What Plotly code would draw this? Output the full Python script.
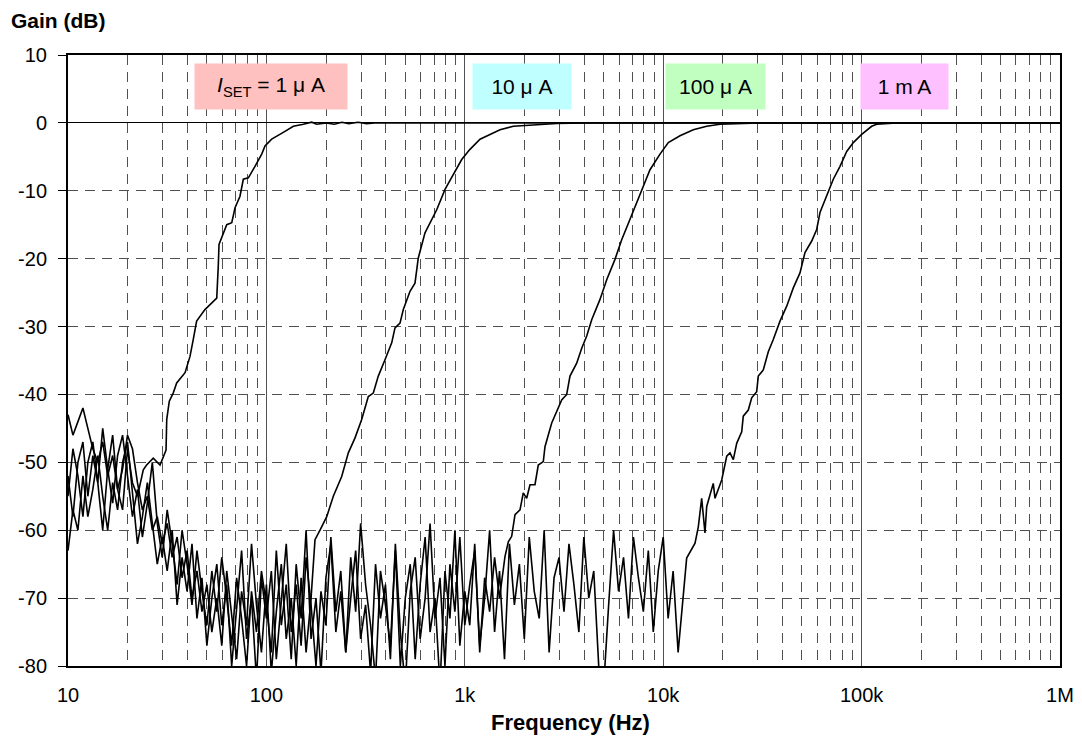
import plotly.graph_objects as go

# sweep points shared by the noise floor part of all four runs (Hz)
f_noise = [10.0, 10.59, 11.22, 11.89, 12.59, 13.34, 14.13, 14.96, 15.85, 16.79,
           17.78, 18.84, 19.95, 21.13, 22.39, 23.71, 25.12, 26.61, 28.18, 29.85,
           31.62, 33.50, 35.48, 37.58, 39.81, 42.17, 44.67, 47.32, 50.12, 53.09,
           56.23, 59.57, 63.10, 66.83, 70.79, 74.99, 79.43, 84.14, 89.13, 94.41,
           100.0, 105.9, 112.2, 118.9, 125.9, 133.4, 141.3, 149.6, 158.5, 167.9,
           177.8, 188.4, 199.5, 211.3, 223.9, 237.1, 251.2, 266.1, 281.8, 298.5,
           316.2, 335.0, 354.8, 375.8, 398.1, 421.7, 446.7, 473.2, 501.2, 530.9,
           562.3, 595.7, 631.0, 668.3, 707.9, 749.9, 794.3, 841.4, 891.3, 944.1,
           1000, 1059, 1122, 1189, 1259, 1334, 1413, 1496, 1585, 1679,
           1778, 1884, 1995, 2113, 2239, 2371, 2512, 2661, 2818, 2985,
           3162, 3350, 3548, 3758, 3981, 4217, 4467, 4732, 5012, 5309,
           5623, 5957, 6310, 6683, 7079, 7499, 7943, 8414, 8913, 9441,
           10000, 10590, 11220, 11890, 12590]

# ISET = 1 uA
g1_noise = [-52, -58, -50, -47, -55, -49, -53, -60, -51, -46, -54, -57, -48, -53, -55]
f1 = [23.96, 24.9, 26.9, 29.1, 31.2, 31.45, 32.4, 33.9, 35.3, 38.9,
      41.2, 42.8, 44.5, 49.0, 56.2, 57.2, 57.7, 63.1, 66.9, 69.5,
      73.6, 76.5, 81.1, 87.6, 94.7, 98.4, 106.3, 121.7, 136.7, 153.5,
      169.2, 179.3, 200, 220, 240, 260, 290, 320, 350, 400, 1000000]
g1 = [-51.1, -50.4, -49.4, -50.4, -48.2, -43.7, -41.0, -39.8, -38.3, -36.8,
      -34.4, -31.9, -29.2, -27.5, -25.8, -21.1, -17.9, -15.0, -14.7, -12.5,
      -10.8, -8.3, -8.1, -6.4, -4.6, -3.4, -2.4, -1.4, -0.5, -0.2,
      0.1, -0.2, 0.0, -0.2, 0.1, -0.1, 0.1, -0.1, 0.0, 0.0, 0.0]

# ISET = 10 uA
g2_noise = [-43, -46, -44, -42, -45, -48, -50, -47, -52, -49,
            -54, -51, -46, -48, -53, -57, -55, -60, -58, -62,
            -59, -64, -61, -67, -63, -70, -66, -72, -68, -75,
            -70, -77, -66, -73, -79, -69, -74, -62, -71, -78,
            -68, -81, -72, -65, -76, -70, -80, -67, -78, -70]
f2 = [175.8, 186.3, 201.4, 217.4, 239.6, 258.8, 279.7, 302.2, 326.3, 345.8,
      366.4, 396.1, 428.1, 444.8, 471.4, 489.8, 529.5, 561.0, 582.9, 630.1,
      681.2, 721.8, 794.9, 859.0, 964.7, 1062, 1193, 1340, 1505, 1756,
      1971, 2304, 2906, 4000, 1000000]
g2 = [-61.4, -60.0, -58.0, -55.0, -52.1, -48.6, -46.4, -43.7, -40.3, -39.8,
      -37.3, -34.9, -32.4, -30.2, -29.5, -27.5, -24.8, -23.6, -19.9, -16.2,
      -14.2, -12.8, -9.8, -8.1, -5.4, -3.9, -2.4, -1.7, -1.0, -0.5,
      -0.4, -0.2, -0.1, 0.0, 0.0]

# ISET = 100 uA
g3_noise = [-55, -48, -52, -58, -50, -47, -53, -45, -51, -56,
            -49, -46, -52, -58, -54, -61, -56, -50, -59, -64,
            -57, -62, -68, -60, -65, -71, -63, -69, -74, -66,
            -72, -64, -70, -77, -67, -73, -80, -69, -75, -66,
            -71, -78, -63, -74, -68, -79, -65, -73, -60, -76,
            -70, -81, -67, -62, -75, -69, -78, -64, -72, -59,
            -68, -74, -82, -66, -71, -77, -63, -80, -70, -65,
            -79, -68, -61, -75, -70, -83, -66, -73, -60, -77,
            -69, -74, -62, -78, -67, -72, -64, -70]
f3 = [1594, 1657, 1723, 1791, 1898, 1971, 2051, 2131, 2258, 2346,
      2487, 2536, 2742, 2960, 3079, 3263, 3390, 3664, 3884, 4116,
      4362, 4802, 5191, 5715, 6178, 6803, 7353, 7938, 8581, 9636,
      10610, 12150, 14180, 16570, 19330, 30740, 1000000]
g3 = [-63.9, -61.7, -60.9, -57.7, -57.0, -54.5, -55.3, -53.3, -53.3, -50.4,
      -49.9, -47.7, -44.2, -42.0, -40.8, -40.0, -37.3, -35.4, -33.2, -31.4,
      -29.0, -26.0, -23.1, -20.1, -17.2, -14.2, -11.8, -9.3, -6.9, -4.6,
      -2.9, -1.9, -1.0, -0.5, -0.2, 0.0, 0.0]

# ISET = 1 mA
g4_noise = [-63, -57, -60, -52, -58, -54, -49, -55, -60, -53,
            -57, -50, -47, -55, -62, -58, -53, -59, -65, -61,
            -66, -60, -71, -64, -69, -62, -73, -67, -77, -70,
            -65, -74, -68, -80, -71, -63, -76, -70, -82, -67,
            -73, -66, -79, -70, -62, -75, -68, -77, -64, -71,
            -80, -69, -74, -61, -72, -66, -78, -70, -63, -76,
            -71, -81, -65, -73, -68, -79, -62, -75, -83, -69,
            -64, -76, -70, -59, -73, -67, -80, -65, -72, -61,
            -74, -68, -63, -77, -70, -60, -75, -66, -79, -62,
            -71, -65, -76, -61, -69, -73, -60, -78, -67, -64,
            -72, -62, -68, -75, -61, -70, -66, -80, -83, -71,
            -60, -69, -64, -73, -61, -67, -72, -63, -75, -66,
            -61, -73, -66, -78, -70]
f4 = [13130, 14470, 15030, 15630, 16240, 16570, 17880, 18240, 19720, 20900,
      21710, 22560, 23470, 24870, 25330, 26850, 27930, 29590, 30150, 31950,
      33860, 35880, 38790, 41930, 45260, 48920, 51830, 56040, 59380, 61700,
      66710, 72000, 77840, 84130, 90840, 100100, 112400, 119200, 150000, 1000000]
g4 = [-64.1, -61.9, -59.5, -55.3, -60.4, -56.5, -53.1, -55.3, -52.6, -49.1,
      -48.6, -49.6, -47.2, -45.5, -43.2, -42.3, -40.5, -39.6, -37.3, -36.4,
      -33.7, -31.9, -29.2, -27.0, -24.3, -22.1, -19.1, -17.4, -15.7, -13.2,
      -10.8, -8.3, -6.4, -4.2, -2.9, -1.7, -0.5, -0.2, 0.0, 0.0]

x_ticks = [10, 100, 1000, 10000, 100000, 1000000]
x_labels = ["10", "100", "1k", "10k", "100k", "1M"]
y_ticks = [10, 0, -10, -20, -30, -40, -50, -60, -70, -80]
y_labels = ["10", "0", "-10", "-20", "-30", "-40", "-50", "-60", "-70", "-80"]

labels = ["<i>I</i><sub>SET</sub> = 1 \u03bc A", "10 \u03bc A", "100 \u03bc A", "1 m A"]
label_x = [2.023, 3.288, 4.264, 5.216]   # log10(Hz)
label_w = [152, 98, 99, 87]
label_col = ["#ffc0c0", "#c0ffff", "#c0ffc0", "#ffc0ff"]

FONT = "Liberation Sans, Arial, sans-serif"
GRID = "#505050"

runs = [
    (f_noise[:len(g1_noise)] + f1, g1_noise + g1),
    (f_noise[:len(g2_noise)] + f2, g2_noise + g2),
    (f_noise[:len(g3_noise)] + f3, g3_noise + g3),
    (f_noise[:len(g4_noise)] + f4, g4_noise + g4),
]

fig = go.Figure()
for fx, gy in runs:
    fig.add_trace(go.Scatter(x=fx, y=gy, mode="lines",
                             line=dict(color="black", width=1.6),
                             showlegend=False, hoverinfo="skip"))

for txt, lx, w, c in zip(labels, label_x, label_w, label_col):
    fig.add_annotation(x=lx, y=5.3, xref="x", yref="y", text=txt,
                       showarrow=False, bgcolor=c, width=w, height=45,
                       borderpad=0, font=dict(size=21, color="black", family=FONT))

# the page body adds an 8px offset, so the figure is 16px smaller than the window
fig.add_annotation(x=-0.059, y=1.057, xref="paper", yref="paper",
                   text="<b>Gain (dB)</b>", showarrow=False,
                   xanchor="left", yanchor="middle",
                   font=dict(size=21, color="black", family=FONT))
fig.add_annotation(x=0.507, y=-0.1165, xref="paper", yref="paper",
                   text="<b>Frequency (Hz)</b>", showarrow=False,
                   xanchor="center", yanchor="bottom",
                   font=dict(size=22, color="black", family=FONT))

fig.update_layout(
    width=1066, height=729,
    margin=dict(l=60, r=14, t=47, b=71),
    plot_bgcolor="white", paper_bgcolor="white",
    font=dict(family=FONT, size=20, color="black"),
    xaxis=dict(type="log", range=[1, 6], tickvals=x_ticks, ticktext=x_labels,
               ticks="", showgrid=True, gridcolor=GRID, gridwidth=1,
               minor=dict(dtick="D1", showgrid=True, gridcolor=GRID,
                          griddash="10px,7px", gridwidth=1, ticks=""),
               showline=True, mirror=True, linecolor="black", linewidth=2,
               ticklabelstandoff=10, automargin=False),
    yaxis=dict(range=[-80, 10], tickvals=y_ticks, ticktext=y_labels,
               ticks="outside", ticklen=8,
               tickcolor="black", showgrid=True, gridcolor=GRID,
               griddash="10px,7px", gridwidth=1,
               zeroline=True, zerolinecolor="black", zerolinewidth=1,
               showline=True, mirror=True, linecolor="black", linewidth=2,
               ticklabelstandoff=7, automargin=False),
)

fig.write_html("out.html")
